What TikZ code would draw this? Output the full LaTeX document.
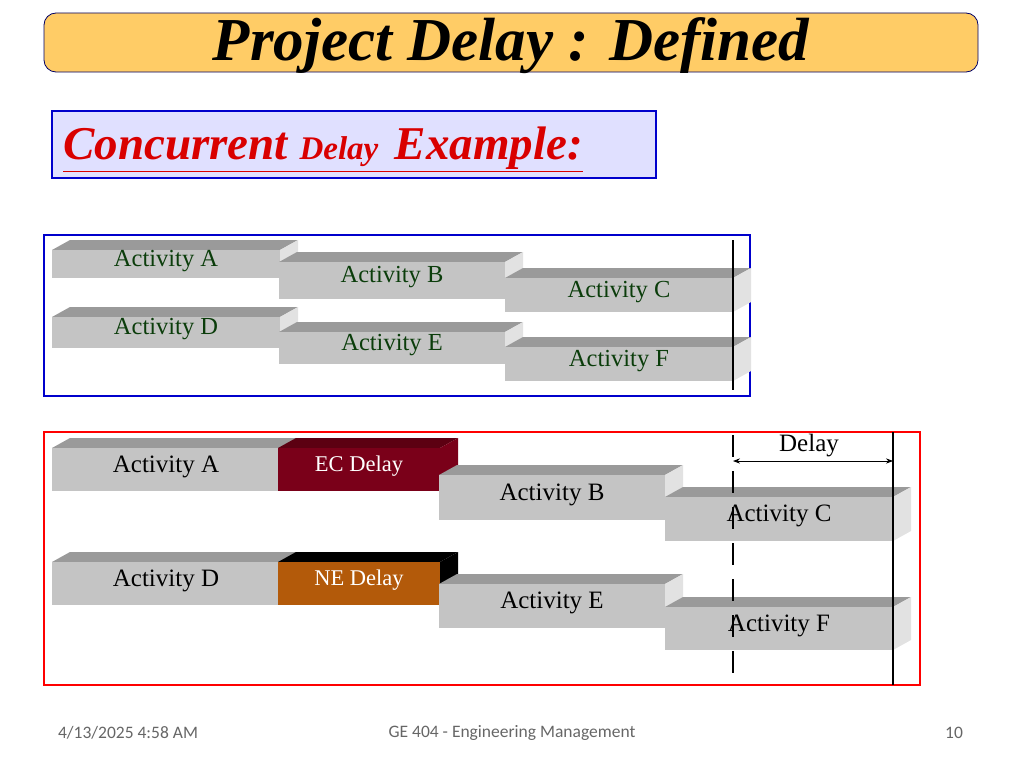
\documentclass[tikz,border=0pt]{standalone}
\usepackage{fontspec}
\setmainfont{Liberation Serif}
\newfontfamily\footfont{Carlito}
\usetikzlibrary{arrows.meta}
\definecolor{frontg}{HTML}{C4C4C4}
\definecolor{topg}{HTML}{9A9A9A}
\definecolor{sideg}{HTML}{E2E2E2}
\definecolor{ecf}{HTML}{7A0019}
\definecolor{ect}{HTML}{5C0012}
\definecolor{nef}{HTML}{B35A0A}
\definecolor{txtg}{HTML}{0B3D0B}
\newcommand{\actbar}[9]{%
  \fill[#7] (#2,#3) -- (#2+18,#3-10) -- (#4+18,#3-10) -- (#4,#3) -- cycle;
  \fill[#8] (#4,#3) -- (#4+18,#3-10) -- (#4+18,#5-10) -- (#4,#5) -- cycle;
  \fill[#6] (#2,#3) rectangle (#4,#5);
  \node[anchor=center] (#1) at ({(#2+#4)/2},{(#3+#5)/2-3}) {#9};
}
\begin{document}
\begin{tikzpicture}[x=1pt,y=-1pt]
\useasboundingbox (0,0) rectangle (1024,768);
\node[draw=blue!40!black, fill={rgb,255:red,255;green,204;blue,102}, rounded corners=12pt, minimum width=934pt, minimum height=59pt, line width=0.8pt] (title) at (511,42.5) {};
\node (tt) at (511,46) {\fontsize{61}{64}\selectfont\bfseries\itshape Project Delay : Defined};
\node[draw=blue!80!black, fill={rgb,255:red,224;green,224;blue,255}, line width=1.2pt, minimum width=604pt, minimum height=67pt] (cbox) at (354,144.5) {};
\node[anchor=west, text=red!85!black, inner sep=0pt] (ct) at (63,149) {\bfseries\itshape\underline{\fontsize{47}{50}\selectfont Concurrent \fontsize{33}{36}\selectfont Delay\ \ \fontsize{47}{50}\selectfont Example:}};
% top group
\node[draw=blue!80!black, line width=1.2pt, minimum width=706pt, minimum height=161pt, inner sep=0pt] (g1) at (397,315.5) {};
\begin{scope}[every node/.style={text=txtg, font=\fontsize{24.5}{26}\selectfont}]
\actbar{a1}{52}{250}{280}{278}{frontg}{topg}{sideg}{Activity A}
\actbar{b1}{279}{262}{505}{299}{frontg}{topg}{sideg}{Activity B}
\actbar{c1}{505}{278}{733}{312}{frontg}{topg}{sideg}{Activity C}
\actbar{d1}{52}{317}{280}{348}{frontg}{topg}{sideg}{Activity D}
\actbar{e1}{279}{332}{505}{364}{frontg}{topg}{sideg}{Activity E}
\actbar{f1}{505}{347}{733}{381}{frontg}{topg}{sideg}{Activity F}
\end{scope}
\coordinate (v1t) at (733,240); \coordinate (v1b) at (733,390);
\draw[line width=2.5pt] (v1t) -- (v1b);
% bottom group
\node[draw=red, line width=1.2pt, minimum width=876pt, minimum height=253pt, inner sep=0pt] (g2) at (482,558.5) {};
\begin{scope}[every node/.style={text=black, font=\fontsize{25}{27}\selectfont}]
\actbar{a2}{52}{448}{280}{491}{frontg}{topg}{sideg}{Activity A}
\actbar{ec}{278}{448}{440}{491}{ecf}{ect}{ecf}{\color{white}\fontsize{22.5}{24}\selectfont EC Delay}
\actbar{b2}{439}{475}{665}{520}{frontg}{topg}{sideg}{Activity B}
\actbar{c2}{665}{497}{893}{541}{frontg}{topg}{sideg}{Activity C}
\actbar{d2}{52}{562}{280}{605}{frontg}{topg}{sideg}{Activity D}
\actbar{ne}{278}{562}{440}{605}{nef}{black}{black}{\color{white}\fontsize{22.5}{24}\selectfont NE Delay}
\actbar{e2}{439}{584}{665}{628}{frontg}{topg}{sideg}{Activity E}
\actbar{f2}{665}{607}{893}{650}{frontg}{topg}{sideg}{Activity F}
\end{scope}
\coordinate (dt) at (733,435); \coordinate (db) at (733,684);
\draw[line width=2.5pt, dash pattern=on 22pt off 14pt] (dt) -- (db);
\coordinate (st) at (893,432); \coordinate (sb) at (893,685);
\draw[line width=2.5pt] (st) -- (sb);
\coordinate (al) at (733,461); \coordinate (ar) at (893,461);
\draw[{Stealth[length=7pt]}-{Stealth[length=7pt]}, line width=0.8pt] (al) -- (ar);
\node[font=\fontsize{25}{27}\selectfont] (dl) at (809,446) {Delay};
% footer
\begin{scope}[every node/.style={text=gray!80!black, font=\footfont\fontsize{17.5}{19}\selectfont}]
\node (f1) at (128,733) {4/13/2025 4:58 AM};
\node (f2) at (512,733) {GE 404 - Engineering Management};
\node (f3) at (954,733) {10};
\end{scope}
\end{tikzpicture}
\end{document}
